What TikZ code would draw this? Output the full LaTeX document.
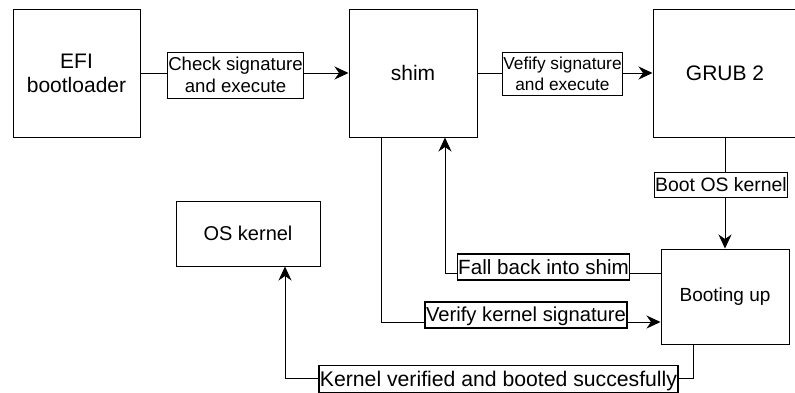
\documentclass[tikz,border=0pt]{standalone}
\usepackage{fontspec}
\setmainfont{Liberation Sans}
\usetikzlibrary{arrows.meta}
\newcommand{\lst}{\rule[-0.24em]{0pt}{1.17em}}
\tikzset{
  blk/.style={draw, line width=1pt, align=center, inner sep=0pt, font=\fontsize{21}{24}\selectfont},
  lbl/.style={draw, line width=1.4pt, align=center, inner sep=1pt, fill=white},
  conn/.style={line width=1pt},
  arr/.style={line width=1pt, -{Stealth[length=14pt,width=13pt,inset=4.5pt]}},
}
\begin{document}
\begin{tikzpicture}[x=1pt,y=-1pt]
\clip (0,0) rectangle (795,392);
\useasboundingbox (0,0) rectangle (795,392);
% blocks
\node[blk, minimum width=127pt, minimum height=128pt] (efi) at (76.5,73) {EFI\\bootloader};
\node[blk, minimum width=128pt, minimum height=128pt] (shim) at (413,73) {shim};
\node[blk, minimum width=144pt, minimum height=128pt] (grub) at (725,73) {GRUB 2};
\node[blk, minimum width=144pt, minimum height=65pt, font=\fontsize{20}{24}\selectfont] (os) at (248,233.5) {OS kernel};
\node[blk, minimum width=128pt, minimum height=95pt, font=\fontsize{19}{22}\selectfont] (boot) at (725,296.5) {Booting up};
% labels
\node[lbl, font=\fontsize{18.6}{22}\selectfont] (l1) at (235.5,75.5) {\lst Check signature\\\lst and execute};
\node[lbl, font=\fontsize{17.3}{19.5}\selectfont] (l2) at (562.5,74) {\lst Vefify signature\\\lst and execute};
\node[lbl, font=\fontsize{19.4}{22}\selectfont] (l3) at (721,185) {\lst Boot OS kernel};
\node[lbl, font=\fontsize{20.6}{22}\selectfont] (l4) at (543.5,267) {\lst Fall back into shim};
\node[lbl, font=\fontsize{20.2}{22}\selectfont] (l5) at (526,315) {\lst Verify kernel signature};
\node[lbl, font=\fontsize{21.2}{22}\selectfont] (l6) at (498.5,379) {\lst Kernel verified and booted succesfully};
% helper coordinates
\coordinate (fb) at (445,273);
\coordinate (vk) at (381,322);
\coordinate (kv) at (693,378);
\coordinate (ok) at (285,378);
% connectors
\draw[conn] (efi.east) -- (efi.east -| l1.west);
\draw[arr] (l1.east |- shim.west) -- (shim.west);
\draw[conn] (shim.east) -- (shim.east -| l2.west);
\draw[arr] (l2.east |- grub.west) -- (grub.west);
\draw[conn] (grub.south) -- (grub.south |- l3.north);
\draw[arr] (l3.south -| boot.north) -- (boot.north);
\draw[conn] (boot.west |- fb) -- (l4.east |- fb);
\draw[arr] (l4.west |- fb) -- (fb) -- (fb |- shim.south);
\draw[conn] (vk |- shim.south) -- (vk) -- (l5.west |- vk);
\draw[arr] (l5.east |- vk) -- (boot.west |- vk);
\draw[conn] (kv |- boot.south) -- (kv) -- (l6.east |- kv);
\draw[arr] (l6.west |- ok) -- (ok) -- (ok |- os.south);
\end{tikzpicture}
\end{document}
